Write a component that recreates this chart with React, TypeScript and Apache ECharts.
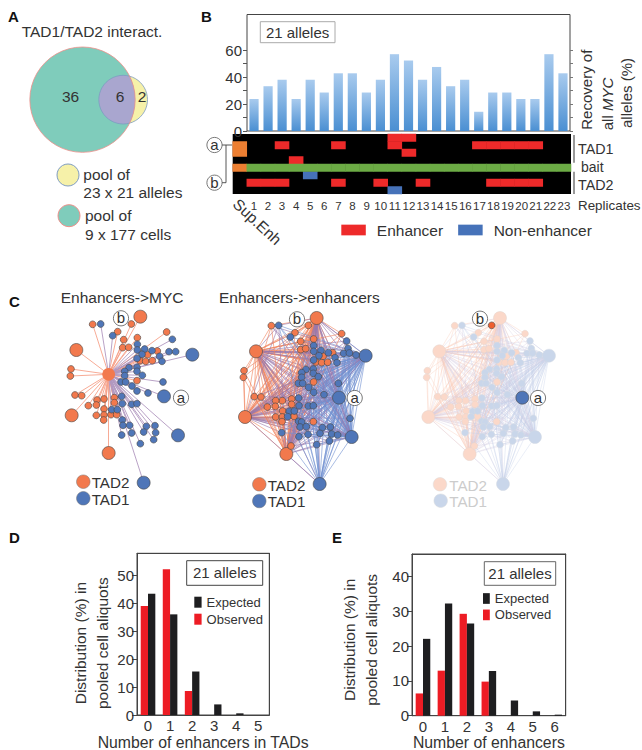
import React, { useEffect, useRef } from "react";
import * as echarts from "echarts";

// ---------- Panel A ----------
const vennSets = [
  [369.5, 299, 73],
  [247.5, 299, 158],
];

// ---------- Panel B ----------
const replicates = ["", "1", "2", "3", "4", "5", "6", "7", "8", "9", "10", "11", "12", "13", "14", "15", "16", "17", "18", "19", "20", "21", "22", "23"];
const barCategories = replicates.slice(1);
const recovery = [23.8, 33.3, 38.1, 23.8, 38.1, 28.6, 42.9, 42.9, 28.6, 38.1, 57.1, 52.4, 38.1, 47.6, 33.3, 38.1, 14.3, 28.6, 28.6, 23.8, 23.8, 57.1, 42.9];
const heatRows = ["r0", "r1", "r2", "r3", "bait", "r5", "r6", "r7"];
const enhancerCells = [
  [11, 0], [12, 0],
  [3, 1], [7, 1], [11, 1], [17, 1], [18, 1], [19, 1], [20, 1], [21, 1],
  [12, 2],
  [4, 3],
  [1, 6], [2, 6], [3, 6], [7, 6], [10, 6], [13, 6], [18, 6], [19, 6], [20, 6], [21, 6],
];
const nonEnhancerCells = [[5, 5], [11, 7]];
const superEnhancerCells = [[0, 1], [0, 2], [0, 4]];
const baitCells = replicates.slice(1).map((_, i) => [i + 1, 4]);

// ---------- Panel C (node layouts, in layout units) ----------
const hub1 = [326, 268];
const tad2Big1 = [[421, 95], [229, 195], [215, 391], [326, 504]];
const tad2Small1 = [[278, 118], [394, 117], [353, 140], [371, 164], [412, 158], [500, 141], [368, 188], [386, 187], [443, 209], [472, 198], [420, 227], [437, 229], [457, 227], [213, 252], [211, 273], [225, 330], [245, 332], [411, 287], [291, 345], [312, 342], [343, 338], [343, 353], [265, 362], [289, 360], [312, 372], [289, 391], [312, 390], [311, 405], [333, 389], [350, 389]];
const tad1Big1 = [[577, 209], [492, 334], [534, 451], [431, 593]];
const tad1Small1 = [[302, 117], [338, 152], [517, 163], [412, 178], [412, 195], [434, 192], [456, 197], [426, 208], [411, 220], [507, 200], [527, 200], [479, 214], [486, 229], [387, 248], [411, 247], [374, 259], [411, 259], [374, 272], [427, 271], [489, 291], [363, 291], [377, 291], [396, 303], [411, 318], [444, 324], [365, 334], [367, 356], [395, 358], [411, 356], [335, 374], [352, 374], [367, 405], [369, 421], [389, 421], [439, 424], [465, 422], [431, 441], [467, 443], [395, 444], [365, 450], [461, 464], [421, 476]];

const tad2Big2 = [[335, 99], [153, 199], [120, 396], [244, 507]];
const tad2Small2 = [[199, 122], [310, 121], [270, 143], [287, 169], [326, 162], [410, 146], [287, 194], [302, 191], [383, 203], [354, 214], [333, 231], [350, 233], [368, 232], [117, 257], [115, 277], [148, 335], [168, 336], [326, 291], [232, 347], [212, 347], [260, 342], [260, 358], [187, 366], [211, 364], [233, 378], [212, 396], [232, 396], [231, 410], [267, 394], [325, 410], [258, 483]];
const tad1Big2 = [[482, 212], [402, 338], [440, 456], [344, 597]];
const tad1Small2 = [[221, 121], [256, 156], [425, 168], [326, 182], [326, 199], [348, 196], [370, 203], [342, 212], [326, 225], [429, 190], [416, 205], [433, 204], [453, 210], [390, 218], [396, 233], [303, 253], [325, 252], [290, 263], [325, 265], [290, 277], [340, 275], [400, 295], [280, 295], [293, 295], [311, 307], [326, 322], [357, 329], [281, 339], [282, 362], [310, 363], [325, 362], [253, 379], [268, 378], [248, 395], [281, 409], [290, 411], [285, 426], [304, 425], [352, 428], [376, 426], [345, 445], [380, 447], [230, 443], [282, 455], [309, 448], [398, 450], [373, 468], [335, 479], [435, 400]];

// ---------- Panels D and E ----------
const enhInTads = ["0", "1", "2", "3", "4", "5"];
const dObserved = [39.1, 52.3, 8.6, 0, 0, 0];
const dExpected = [43.5, 36.1, 15.6, 3.8, 0.6, 0];
const enhTotal = ["0", "1", "2", "3", "4", "5", "6"];
const eObserved = [6.4, 12.95, 29.3, 9.8, 0, 0, 0];
const eExpected = [22.1, 32.3, 26.5, 12.85, 4.4, 1.25, 0.3];

const FONT = "Liberation Sans";
const INK = "#333";
const ORANGE = "#f2794d";
const BLUE = "#4f76b8";

function txt(text: string, x: number, y: number, o: any = {}) {
  const { rotation, ...style } = o;
  return {
    type: "text", x, y, z: 100, rotation: rotation || 0, silent: true,
    style: { text, fill: INK, fontFamily: FONT, fontSize: 15.5, align: "left", verticalAlign: "middle", ...style },
  };
}
function circ(cx: number, cy: number, r: number, fill: string, stroke: string, lineWidth = 1) {
  return { type: "circle", z: 90, silent: true, shape: { cx, cy, r }, style: { fill, stroke, lineWidth } };
}
function box(x: number, y: number, w: number, h: number, stroke: string, lineWidth = 1, fill = "#fff") {
  return { type: "rect", z: 50, silent: true, shape: { x, y, width: w, height: h }, style: { fill, stroke, lineWidth } };
}
function tag(label: string, cx: number, cy: number) {
  return [
    circ(cx, cy, 7.6, "#fff", "#555", 0.8),
    txt(label, cx, cy - 0.5, { align: "center", fontSize: 15 }),
  ];
}
function poly(points: number[][], stroke: string, lineWidth = 1) {
  return { type: "polyline", z: 60, silent: true, shape: { points }, style: { stroke, lineWidth, fill: "none" } };
}

function node(p: number[], size: number, fill: string, border = "#444", bw = 0.6) {
  return { value: p, symbolSize: size, itemStyle: { color: fill, borderColor: border, borderWidth: bw, opacity: 1 } };
}

function networkGrid(left: number) {
  return { left, top: 285, width: 215, height: 235, show: false, outerBoundsMode: "none" };
}

function graphBase(idx: number) {
  return {
    type: "graph", coordinateSystem: "cartesian2d", xAxisIndex: idx, yAxisIndex: idx,
    layout: "none", symbol: "circle", silent: true, label: { show: false }, z: 3,
  };
}

function denseLinks(dim: boolean) {
  const oBig = tad2Big2.length, oAll = oBig + tad2Small2.length;
  const bBig = tad1Big2.length, total = oAll + bBig + tad1Small2.length;
  const links: any[] = [];
  const op = dim ? 0.35 : 0.6;
  const cO = dim ? "#f9c8b5" : "#f0825c";
  const cB = dim ? "#c3cfe8" : "#6f8fd0";
  const cM = dim ? "#d8cfe2" : "#9a78ab";
  const add = (s: number, t: number, c: string) =>
    links.push({ source: s, target: t, lineStyle: { color: c, opacity: op, width: 1, curveness: 0 } });
  for (let s = 0; s < oBig; s++) {
    for (let t = s + 1; t < oAll; t++) add(s, t, cO);
    for (let t = oAll; t < total; t += t < oAll + bBig ? 1 : 2) add(s, t, cM);
  }
  for (let s = oAll; s < oAll + bBig; s++) {
    const lastBlue = s === oAll + 3;
    for (let t = s + 1; t < total; t += lastBlue ? 3 : 1) add(s, t, cB);
    if (!lastBlue) for (let t = oBig; t < oAll; t += 3) add(s, t, cM);
  }
  return links;
}

function buildOption() {
  const nodes1 = [
    node(hub1, 12.7, ORANGE, ORANGE, 0),
    ...tad2Big1.map((p) => node(p, 13, ORANGE)),
    ...tad2Small1.map((p) => node(p, 6.8, ORANGE)),
    ...tad1Big1.map((p) => node(p, 13, BLUE)),
    ...tad1Small1.map((p) => node(p, 6.8, BLUE)),
  ];
  const firstBlue1 = 1 + tad2Big1.length + tad2Small1.length;
  const links1 = nodes1.slice(1).map((_, i) => ({
    source: 0, target: i + 1,
    lineStyle: { color: i + 1 < firstBlue1 ? "#f6a28a" : "#b197bf", width: 0.9, opacity: 1, curveness: 0 },
  }));

  const nodes2 = [
    ...tad2Big2.map((p) => node(p, 13, ORANGE)),
    ...tad2Small2.map((p) => node(p, 6.8, ORANGE)),
    ...tad1Big2.map((p) => node(p, 13, BLUE)),
    ...tad1Small2.map((p) => node(p, 6.8, BLUE)),
  ];
  const bIdx = tad2Big2.length + 1;
  const aIdx = tad2Big2.length + tad2Small2.length + 1;
  const nodes3 = [
    ...tad2Big2.map((p) => node(p, 13, "#fbd8c9", "#e2d5cf", 0.5)),
    ...tad2Small2.map((p) => node(p, 6.8, "#fbd8c9", "#e2d5cf", 0.5)),
    ...tad1Big2.map((p) => node(p, 13, "#c9d6ea", "#d5dae2", 0.5)),
    ...tad1Small2.map((p) => node(p, 6.8, "#c9d6ea", "#d5dae2", 0.5)),
  ];
  nodes3[bIdx] = node(tad2Small2[1], 6.8, "#ee5f30");
  nodes3[aIdx] = node(tad1Big2[1], 13, BLUE);

  const axisBase = { show: false, type: "value" as const };
  const labelStyle = { color: INK, fontFamily: FONT };
  const frameLine = { show: true, onZero: false, lineStyle: { color: "#444", width: 1 } };

  const distAxis = (max: number, values: number[], nameGap: number, gridIndex: number, shift: number) => ({
    type: "value", gridIndex, min: 0, max,
    name: "Distribution (%) in\npooled cell aliquots",
    nameLocation: "middle", nameRotate: 90, nameGap,
    nameTextStyle: { ...labelStyle, fontSize: 15.5, lineHeight: 22, padding: [0, shift, 0, 0] },
    axisLine: frameLine,
    axisTick: { show: true, length: 5, customValues: values, lineStyle: { color: "#444" } },
    axisLabel: { ...labelStyle, fontSize: 15, margin: 3, customValues: values },
    splitLine: { show: false },
  });
  const frameXAxis = (gridIndex: number) => ({
    type: "value", gridIndex, min: 0, max: 1, position: "top",
    axisLine: frameLine, axisTick: { show: false }, axisLabel: { show: false }, splitLine: { show: false },
  });
  const frameYAxis = (gridIndex: number) => ({
    type: "value", gridIndex, min: 0, max: 1, position: "right",
    axisLine: frameLine, axisTick: { show: false }, axisLabel: { show: false }, splitLine: { show: false },
  });

  const heatVisual = (seriesIndex: number, color: string) => ({
    type: "continuous", show: false, seriesIndex, min: 0, max: 1, inRange: { color: [color, color] },
  });

  const plotGrid = (left: number, top: number, width: number, height: number) => ({
    left, top, width, height, show: true, borderColor: "#444", borderWidth: 1, backgroundColor: "transparent", outerBoundsMode: "none",
  });

  return {
    animation: false,
    backgroundColor: "#fff",
    textStyle: { fontFamily: FONT },
    visualMap: [
      heatVisual(2, "#ee2a2a"),
      heatVisual(3, "#4672b9"),
      heatVisual(4, "#ec7f32"),
      heatVisual(5, "#6cab45"),
    ],
    grid: [
      { left: 0, top: 0, width: 210, height: 250, show: false, outerBoundsMode: "none" }, // 0 venn
      plotGrid(247, 14.5, 323, 116.5), // 1 bars
      { left: 232.7, top: 134, width: 338.3, height: 60, show: true, borderWidth: 0, backgroundColor: "#000", outerBoundsMode: "none" }, // 2 heat
      networkGrid(0), // 3
      networkGrid(205), // 4
      networkGrid(388.33), // 5
      plotGrid(137, 553.3, 132.3, 161.7), // 6 D
      plotGrid(412, 554, 153.7, 161.7), // 7 E
    ],
    xAxis: [
      { ...axisBase, gridIndex: 0, min: 0, max: 630 },
      { type: "category", gridIndex: 1, data: barCategories, axisLine: { show: false }, axisTick: { show: false }, axisLabel: { show: false } },
      {
        type: "category", gridIndex: 2, data: replicates,
        axisLine: { show: false }, axisTick: { show: false },
        axisLabel: { ...labelStyle, fontSize: 11.5, interval: 0, margin: 6 },
      },
      { ...axisBase, gridIndex: 3, min: 0, max: 645 },
      { ...axisBase, gridIndex: 4, min: 0, max: 645 },
      { ...axisBase, gridIndex: 5, min: 0, max: 645 },
      {
        type: "category", gridIndex: 6, data: enhInTads,
        name: "Number of enhancers in TADs", nameLocation: "middle", nameGap: 19,
        nameTextStyle: { ...labelStyle, fontSize: 15.8 },
        axisLine: frameLine, axisTick: { show: false },
        axisLabel: { ...labelStyle, fontSize: 15, margin: 3, interval: 0 },
      },
      {
        type: "category", gridIndex: 7, data: enhTotal,
        name: "Number of enhancers", nameLocation: "middle", nameGap: 19,
        nameTextStyle: { ...labelStyle, fontSize: 15.8 },
        axisLine: frameLine, axisTick: { show: false },
        axisLabel: { ...labelStyle, fontSize: 15, margin: 3, interval: 0 },
      },
      frameXAxis(6),
      frameXAxis(7),
    ],
    yAxis: [
      { ...axisBase, gridIndex: 0, min: 0, max: 750, inverse: true },
      {
        type: "value", gridIndex: 1, min: 0, max: 86.6,
        axisLine: { show: false },
        axisTick: { show: true, length: 4, customValues: [0, 10, 20, 30, 40, 50, 60], lineStyle: { color: "#555" } },
        axisLabel: { ...labelStyle, fontSize: 15, margin: 5, customValues: [0, 20, 40, 60] },
        splitLine: { show: false },
      },
      { type: "category", gridIndex: 2, data: heatRows, inverse: true, show: false },
      { ...axisBase, gridIndex: 3, min: 0, max: 705, inverse: true },
      { ...axisBase, gridIndex: 4, min: 0, max: 705, inverse: true },
      { ...axisBase, gridIndex: 5, min: 0, max: 705, inverse: true },
      distAxis(58, [0, 10, 20, 30, 40, 50], 22, 6, 18),
      distAxis(46.5, [0, 10, 20, 30, 40], 30, 7, 10),
      {
        type: "value", gridIndex: 1, min: 0, max: 86.6, position: "right",
        axisLine: { show: false },
        axisTick: { show: true, length: 3, customValues: [0, 10, 20, 30, 40, 50, 60], lineStyle: { color: "#777" } },
        axisLabel: { show: false }, splitLine: { show: false },
      },
      frameYAxis(6),
      frameYAxis(7),
    ],
    legend: [
      {
        data: ["Enhancer", "Non-enhancer"], left: 341.3, top: 222, orient: "horizontal", itemWidth: 24.5, itemHeight: 10.7,
        itemGap: 15, padding: 0, icon: "rect", selectedMode: false, textStyle: { ...labelStyle, fontSize: 15.5, padding: [0, 0, 0, 6] },
      },
      {
        data: ["Expected", "Observed"], left: 194.3, top: 595.7, orient: "vertical", itemWidth: 7.3, itemHeight: 11,
        itemGap: 4, padding: 0, icon: "rect", selectedMode: false, textStyle: { ...labelStyle, fontSize: 13 },
      },
      {
        data: ["Expected", "Observed"], left: 483, top: 592, orient: "vertical", itemWidth: 6.8, itemHeight: 10.7,
        itemGap: 3.4, padding: 0, icon: "rect", selectedMode: false, textStyle: { ...labelStyle, fontSize: 13 },
      },
    ],
    series: [
      {
        type: "custom", coordinateSystem: "cartesian2d", xAxisIndex: 0, yAxisIndex: 0, silent: true, z: 2,
        data: vennSets,
        encode: { x: 0, y: 1 },
        renderItem: (params: any, api: any) => {
          if (params.dataIndex !== 0) return null;
          const [sx, sy, sr0] = vennSets[0];
          const [bx, by, br0] = vennSets[1];
          const s = api.coord([sx, sy]);
          const b = api.coord([bx, by]);
          const sr = api.size([sr0, 0])[0];
          const br = api.size([br0, 0])[0];
          const d = s[0] - b[0];
          const a = (d * d + br * br - sr * sr) / (2 * d);
          const h = Math.sqrt(br * br - a * a);
          const ix = b[0] + a;
          const lens = `M ${ix} ${b[1] - h} A ${br} ${br} 0 0 1 ${ix} ${b[1] + h} A ${sr} ${sr} 0 1 1 ${ix} ${b[1] - h} Z`;
          return {
            type: "group",
            children: [
              { type: "circle", shape: { cx: s[0], cy: s[1], r: sr }, style: { fill: "#f6f1a9", stroke: "none" } },
              { type: "circle", shape: { cx: b[0], cy: b[1], r: br }, style: { fill: "#7fccbb", stroke: "none" } },
              { type: "path", shape: { pathData: lens }, style: { fill: "#a9a6cf", stroke: "none" } },
              { type: "circle", shape: { cx: s[0], cy: s[1], r: sr }, style: { fill: "none", stroke: "#7e9cc2", lineWidth: 0.8 } },
              { type: "circle", shape: { cx: b[0], cy: b[1], r: br }, style: { fill: "none", stroke: "#ee8f8a", lineWidth: 0.8 } },
            ],
          };
        },
      },
      {
        type: "bar", xAxisIndex: 1, yAxisIndex: 1, data: recovery, barWidth: 9.2, silent: true,
        itemStyle: {
          color: new echarts.graphic.LinearGradient(0, 0, 0, 1, [
            { offset: 0, color: "#a9cbee" },
            { offset: 1, color: "#4a8fd2" },
          ]),
        },
      },
      { name: "Enhancer", type: "heatmap", xAxisIndex: 2, yAxisIndex: 2, data: enhancerCells.map((c) => [...c, 1]), itemStyle: { color: "#ee2a2a" }, silent: true },
      { name: "Non-enhancer", type: "heatmap", xAxisIndex: 2, yAxisIndex: 2, data: nonEnhancerCells.map((c) => [...c, 1]), itemStyle: { color: "#4672b9" }, silent: true },
      { name: "Super enhancer", type: "heatmap", xAxisIndex: 2, yAxisIndex: 2, data: superEnhancerCells.map((c) => [...c, 1]), itemStyle: { color: "#ec7f32" }, silent: true },
      { name: "Bait", type: "heatmap", xAxisIndex: 2, yAxisIndex: 2, data: baitCells.map((c) => [...c, 1]), itemStyle: { color: "#6cab45" }, silent: true },
      { ...graphBase(3), data: nodes1, links: links1 },
      { ...graphBase(4), data: nodes2, links: denseLinks(false) },
      { ...graphBase(5), data: nodes3, links: denseLinks(true) },
      { name: "Observed", type: "bar", xAxisIndex: 6, yAxisIndex: 6, data: dObserved, barWidth: 7.3, barGap: 0, itemStyle: { color: "#ed1c24" }, silent: true },
      { name: "Expected", type: "bar", xAxisIndex: 6, yAxisIndex: 6, data: dExpected, barWidth: 7.3, barGap: 0, itemStyle: { color: "#1e1e20" }, silent: true },
      { name: "Observed", type: "bar", xAxisIndex: 7, yAxisIndex: 7, data: eObserved, barWidth: 7.3, barGap: 0, itemStyle: { color: "#ed1c24" }, silent: true },
      { name: "Expected", type: "bar", xAxisIndex: 7, yAxisIndex: 7, data: eExpected, barWidth: 7.3, barGap: 0, itemStyle: { color: "#1e1e20" }, silent: true },
    ],
    graphic: {
      elements: [
        txt("A", 8, 16, { fontWeight: "bold", fontSize: 15, fill: "#111" }),
        txt("B", 201, 16, { fontWeight: "bold", fontSize: 15, fill: "#111" }),
        txt("C", 9, 301, { fontWeight: "bold", fontSize: 15, fill: "#111" }),
        txt("D", 9, 537, { fontWeight: "bold", fontSize: 15, fill: "#111" }),
        txt("E", 332, 537, { fontWeight: "bold", fontSize: 15, fill: "#111" }),
        txt("TAD1/TAD2 interact.", 21.7, 31.7),
        txt("36", 70.5, 96, { align: "center" }),
        txt("6", 120, 96.3, { align: "center" }),
        txt("2", 142, 96.3, { align: "center" }),
        circ(68, 175, 11, "#f6f1a9", "#7e9cc2"),
        circ(69, 215.7, 11, "#7fccbb", "#ee8f8a"),
        txt("pool of", 83.3, 174),
        txt("23 x 21 alleles", 83.3, 192.7),
        txt("pool of", 85, 215.3),
        txt("9 x 177 cells", 85, 234),
        box(260.3, 21.7, 74.7, 21, "#aaa", 1),
        txt("21 alleles", 297.6, 32.5, { align: "center", fontSize: 15 }),
        txt("Recovery of", 586, 89.7, { align: "center", rotation: Math.PI / 2, fontSize: 15 }),
        txt("all {i|MYC}", 607, 104, { align: "center", rotation: Math.PI / 2, fontSize: 15, rich: { i: { fontStyle: "italic", fontSize: 15, fontFamily: FONT, fill: INK } } }),
        txt("alleles (%)", 626.7, 93, { align: "center", rotation: Math.PI / 2, fontSize: 15 }),
        txt("TAD1", 578, 149.3, { fontSize: 14.3 }),
        txt("bait", 581, 166.7, { fontSize: 14 }),
        txt("TAD2", 578, 185, { fontSize: 14.3 }),
        poly([[574, 135], [574, 162.7]], "#555", 1.2),
        poly([[574, 171.7], [574, 194]], "#555", 1.2),
        poly([[222, 145], [226, 145], [226, 182.7], [222, 182.7]], "#444", 0.9),
        poly([[226, 145], [232, 145]], "#444", 0.9),
        ...tag("a", 214.5, 145),
        ...tag("b", 214.5, 182.7),
        txt("Replicates", 578, 205.7, { fontSize: 13.4 }),
        txt("Sup.Enh", 257.3, 221.7, { align: "center", fontSize: 15.5, rotation: (-43 * Math.PI) / 180 }),
        txt("Enhancers->MYC", 60.7, 297.7),
        txt("Enhancers->enhancers", 219, 297.7),
        ...tag("b", 121, 318.3),
        ...tag("a", 181, 397.7),
        circ(83.3, 481.7, 6.8, ORANGE, "#777", 0.5),
        circ(83.3, 498.3, 6.8, BLUE, "#777", 0.5),
        txt("TAD2", 91.7, 482.7, { fontSize: 15.2 }),
        txt("TAD1", 91.7, 499, { fontSize: 15.2 }),
        ...tag("b", 297, 319.3),
        ...tag("a", 354.7, 398),
        circ(259.3, 484.3, 6.8, ORANGE, "#777", 0.5),
        circ(259.3, 501, 6.8, BLUE, "#777", 0.5),
        txt("TAD2", 267.7, 485, { fontSize: 15.2 }),
        txt("TAD1", 267.7, 501.5, { fontSize: 15.2 }),
        ...tag("b", 480, 318.7),
        ...tag("a", 538, 398),
        circ(440, 484.3, 6.8, "#fbd8c9", "#ddd", 0.5),
        circ(440.7, 500.7, 6.8, "#c9d6ea", "#ddd", 0.5),
        txt("TAD2", 449.3, 485, { fontSize: 15.2, fill: "#ccc" }),
        txt("TAD1", 449.3, 501.5, { fontSize: 15.2, fill: "#ccc" }),
        box(186.7, 560.7, 76, 24.6, "#444", 1),
        txt("21 alleles", 224.7, 572.5, { align: "center", fontSize: 15 }),
        box(484.3, 561.7, 71.4, 23.6, "#666", 1),
        txt("21 alleles", 520, 573, { align: "center", fontSize: 15 }),
      ],
    },
  };
}

export default function App() {
  const ref = useRef<HTMLDivElement>(null);
  useEffect(() => {
    document.body.style.margin = "0";
    const chart = echarts.init(ref.current!, null, { renderer: "svg" });
    chart.setOption(buildOption() as any);
    return () => chart.dispose();
  }, []);
  return <div ref={ref} style={{ width: 642, height: 750 }} />;
}
